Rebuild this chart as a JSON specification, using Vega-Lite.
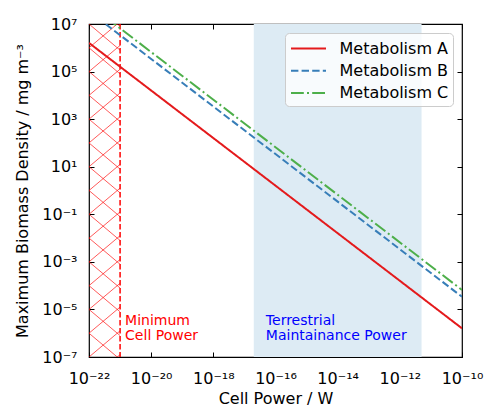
{
  "$schema": "https://vega.github.io/schema/vega-lite/v6.json",
  "width": 373,
  "height": 333,
  "autosize": "none",
  "padding": {"left": 89, "top": 24, "right": 24, "bottom": 50},
  "background": "white",
  "config": {
    "font": "DejaVu Sans",
    "view": {"stroke": "black", "strokeWidth": 1.2},
    "axis": {
      "labelFont": "DejaVu Sans", "titleFont": "DejaVu Sans",
      "labelFontSize": 16, "titleFontSize": 16, "titleFontWeight": "normal",
      "labelColor": "black", "titleColor": "black",
      "tickColor": "black", "tickSize": -5, "tickWidth": 1,
      "domain": false, "grid": false,
      "labelOverlap": false, "labelFlush": false, "labelBound": false
    },
    "text": {"font": "DejaVu Sans"}
  },
  "layer": [
    {
      "data": {"values": [{"lo": 2e-17, "hi": 5e-12}]},
      "mark": {"type": "rect", "color": "#ddebf4"},
      "encoding": {
        "x": {"field": "lo", "type": "quantitative", "scale": {"type": "log", "domain": [1e-22, 1e-10], "nice": false}, "axis": null},
        "x2": {"field": "hi"}
      }
    },
    {
      "data": {"values": [
        {"x1": 1e-22, "y1": 1e-8, "x2": 1e-21, "y2": 1.2589e-7},
        {"x1": 1e-22, "y1": 1e-7, "x2": 1e-21, "y2": 1.2589e-6},
        {"x1": 1e-22, "y1": 1e-6, "x2": 1e-21, "y2": 1.2589e-5},
        {"x1": 1e-22, "y1": 1e-5, "x2": 1e-21, "y2": 1.2589e-4},
        {"x1": 1e-22, "y1": 1e-4, "x2": 1e-21, "y2": 1.2589e-3},
        {"x1": 1e-22, "y1": 1e-3, "x2": 1e-21, "y2": 1.2589e-2},
        {"x1": 1e-22, "y1": 1e-2, "x2": 1e-21, "y2": 1.2589e-1},
        {"x1": 1e-22, "y1": 1e-1, "x2": 1e-21, "y2": 1.2589},
        {"x1": 1e-22, "y1": 1, "x2": 1e-21, "y2": 12.589},
        {"x1": 1e-22, "y1": 10, "x2": 1e-21, "y2": 125.89},
        {"x1": 1e-22, "y1": 100, "x2": 1e-21, "y2": 1258.9},
        {"x1": 1e-22, "y1": 1e3, "x2": 1e-21, "y2": 1.2589e4},
        {"x1": 1e-22, "y1": 1e4, "x2": 1e-21, "y2": 1.2589e5},
        {"x1": 1e-22, "y1": 1e5, "x2": 1e-21, "y2": 1.2589e6},
        {"x1": 1e-22, "y1": 1e6, "x2": 1e-21, "y2": 1.2589e7},
        {"x1": 1e-22, "y1": 1e-6, "x2": 1e-21, "y2": 7.943e-8},
        {"x1": 1e-22, "y1": 1e-5, "x2": 1e-21, "y2": 7.943e-7},
        {"x1": 1e-22, "y1": 1e-4, "x2": 1e-21, "y2": 7.943e-6},
        {"x1": 1e-22, "y1": 1e-3, "x2": 1e-21, "y2": 7.943e-5},
        {"x1": 1e-22, "y1": 1e-2, "x2": 1e-21, "y2": 7.943e-4},
        {"x1": 1e-22, "y1": 1e-1, "x2": 1e-21, "y2": 7.943e-3},
        {"x1": 1e-22, "y1": 1, "x2": 1e-21, "y2": 7.943e-2},
        {"x1": 1e-22, "y1": 10, "x2": 1e-21, "y2": 0.7943},
        {"x1": 1e-22, "y1": 100, "x2": 1e-21, "y2": 7.943},
        {"x1": 1e-22, "y1": 1e3, "x2": 1e-21, "y2": 79.43},
        {"x1": 1e-22, "y1": 1e4, "x2": 1e-21, "y2": 794.3},
        {"x1": 1e-22, "y1": 1e5, "x2": 1e-21, "y2": 7943},
        {"x1": 1e-22, "y1": 1e6, "x2": 1e-21, "y2": 79430},
        {"x1": 1e-22, "y1": 1e7, "x2": 1e-21, "y2": 794300},
        {"x1": 1e-22, "y1": 1e8, "x2": 1e-21, "y2": 7.943e6}
      ]},
      "mark": {"type": "rule", "color": "#ff0000", "opacity": 0.65, "strokeWidth": 1, "clip": true},
      "encoding": {
        "x": {"field": "x1", "type": "quantitative", "scale": {"type": "log", "domain": [1e-22, 1e-10], "nice": false},
              "axis": {"orient": "top", "labels": false, "title": null, "values": [1e-22, 1e-20, 1e-18, 1e-16, 1e-14, 1e-12, 1e-10]}},
        "x2": {"field": "x2"},
        "y": {"field": "y1", "type": "quantitative", "scale": {"type": "log", "domain": [1e-7, 1e7], "nice": false},
              "axis": {"orient": "right", "labels": false, "title": null, "values": [1e-7, 1e-5, 1e-3, 1e-1, 10, 1000, 1e5, 1e7]}},
        "y2": {"field": "y2"}
      }
    },
    {
      "data": {"values": [{"p": 1e-21}]},
      "mark": {"type": "rule", "color": "#ff0000", "strokeWidth": 1.5, "strokeDash": [5.5, 2.5]},
      "encoding": {
        "x": {"field": "p", "type": "quantitative", "scale": {"type": "log", "domain": [1e-22, 1e-10], "nice": false}, "axis": null}
      }
    },
    {
      "data": {"values": [
        {"power": 1e-22, "density": 1.6e6, "metabolism": "Metabolism A"},
        {"power": 1e-10, "density": 1.6e-6, "metabolism": "Metabolism A"},
        {"power": 1e-22, "density": 3.4e7, "metabolism": "Metabolism B"},
        {"power": 1e-10, "density": 3.4e-5, "metabolism": "Metabolism B"},
        {"power": 1e-22, "density": 6.6e7, "metabolism": "Metabolism C"},
        {"power": 1e-10, "density": 6.6e-5, "metabolism": "Metabolism C"}
      ]},
      "mark": {"type": "line", "strokeWidth": 2, "clip": true},
      "encoding": {
        "x": {"field": "power", "type": "quantitative", "scale": {"type": "log", "domain": [1e-22, 1e-10], "nice": false},
              "axis": {"title": "Cell Power / W", "values": [1e-22, 1e-20, 1e-18, 1e-16, 1e-14, 1e-12, 1e-10],
                       "labelExpr": "datum.value < 3e-22 ? '10⁻²²' : datum.value < 3e-20 ? '10⁻²⁰' : datum.value < 3e-18 ? '10⁻¹⁸' : datum.value < 3e-16 ? '10⁻¹⁶' : datum.value < 3e-14 ? '10⁻¹⁴' : datum.value < 3e-12 ? '10⁻¹²' : '10⁻¹⁰'",
                       "labelPadding": 18, "titlePadding": 4}},
        "y": {"field": "density", "type": "quantitative", "scale": {"type": "log", "domain": [1e-7, 1e7], "nice": false},
              "axis": {"title": "Maximum Biomass Density / mg m⁻³", "values": [1e-7, 1e-5, 1e-3, 1e-1, 10, 1000, 1e5, 1e7],
                       "labelExpr": "datum.value < 3e-7 ? '10⁻⁷' : datum.value < 3e-5 ? '10⁻⁵' : datum.value < 3e-3 ? '10⁻³' : datum.value < 0.3 ? '10⁻¹' : datum.value < 30 ? '10¹' : datum.value < 3000 ? '10³' : datum.value < 3e5 ? '10⁵' : '10⁷'",
                       "labelPadding": 17, "titlePadding": 11}},
        "color": {"field": "metabolism", "type": "nominal",
                  "scale": {"domain": ["Metabolism A", "Metabolism B", "Metabolism C"], "range": ["#e41a1c", "#377eb8", "#4daf4a"]},
                  "legend": {"orient": "none", "legendX": 196, "legendY": 9, "title": null,
                             "labelFontSize": 16, "labelFont": "DejaVu Sans", "labelColor": "black",
                             "symbolType": "M-1.75,0H1.75", "symbolSize": 400, "symbolStrokeWidth": 2,
                             "symbolFillColor": "transparent",
                             "symbolOffset": 8, "labelOffset": 20, "rowPadding": 3.3, "padding": 4.5,
                             "fillColor": "rgba(255,255,255,0.8)", "strokeColor": "#cccccc", "cornerRadius": 4}},
        "strokeDash": {"field": "metabolism", "type": "nominal",
                       "scale": {"domain": ["Metabolism A", "Metabolism B", "Metabolism C"], "range": [[1, 0], [7.4, 3.2], [12.8, 3.2, 2, 3.2]]}}
      }
    },
    {
      "data": {"values": [
        {"p": 1.45e-21, "d": 2.25e-6, "t": "Minimum"},
        {"p": 1.45e-21, "d": 5e-7, "t": "Cell Power"}
      ]},
      "mark": {"type": "text", "align": "left", "baseline": "alphabetic", "fontSize": 14, "color": "#ff0000"},
      "encoding": {
        "x": {"field": "p", "type": "quantitative", "scale": {"type": "log", "domain": [1e-22, 1e-10], "nice": false}, "axis": null},
        "y": {"field": "d", "type": "quantitative", "scale": {"type": "log", "domain": [1e-7, 1e7], "nice": false}, "axis": null},
        "text": {"field": "t"}
      }
    },
    {
      "data": {"values": [
        {"p": 4.9e-17, "d": 2.25e-6, "t": "Terrestrial"},
        {"p": 4.9e-17, "d": 5e-7, "t": "Maintainance Power"}
      ]},
      "mark": {"type": "text", "align": "left", "baseline": "alphabetic", "fontSize": 14, "color": "#0000ff"},
      "encoding": {
        "x": {"field": "p", "type": "quantitative", "scale": {"type": "log", "domain": [1e-22, 1e-10], "nice": false}, "axis": null},
        "y": {"field": "d", "type": "quantitative", "scale": {"type": "log", "domain": [1e-7, 1e7], "nice": false}, "axis": null},
        "text": {"field": "t"}
      }
    }
  ],
  "resolve": {"axis": {"x": "independent", "y": "independent"}}
}
